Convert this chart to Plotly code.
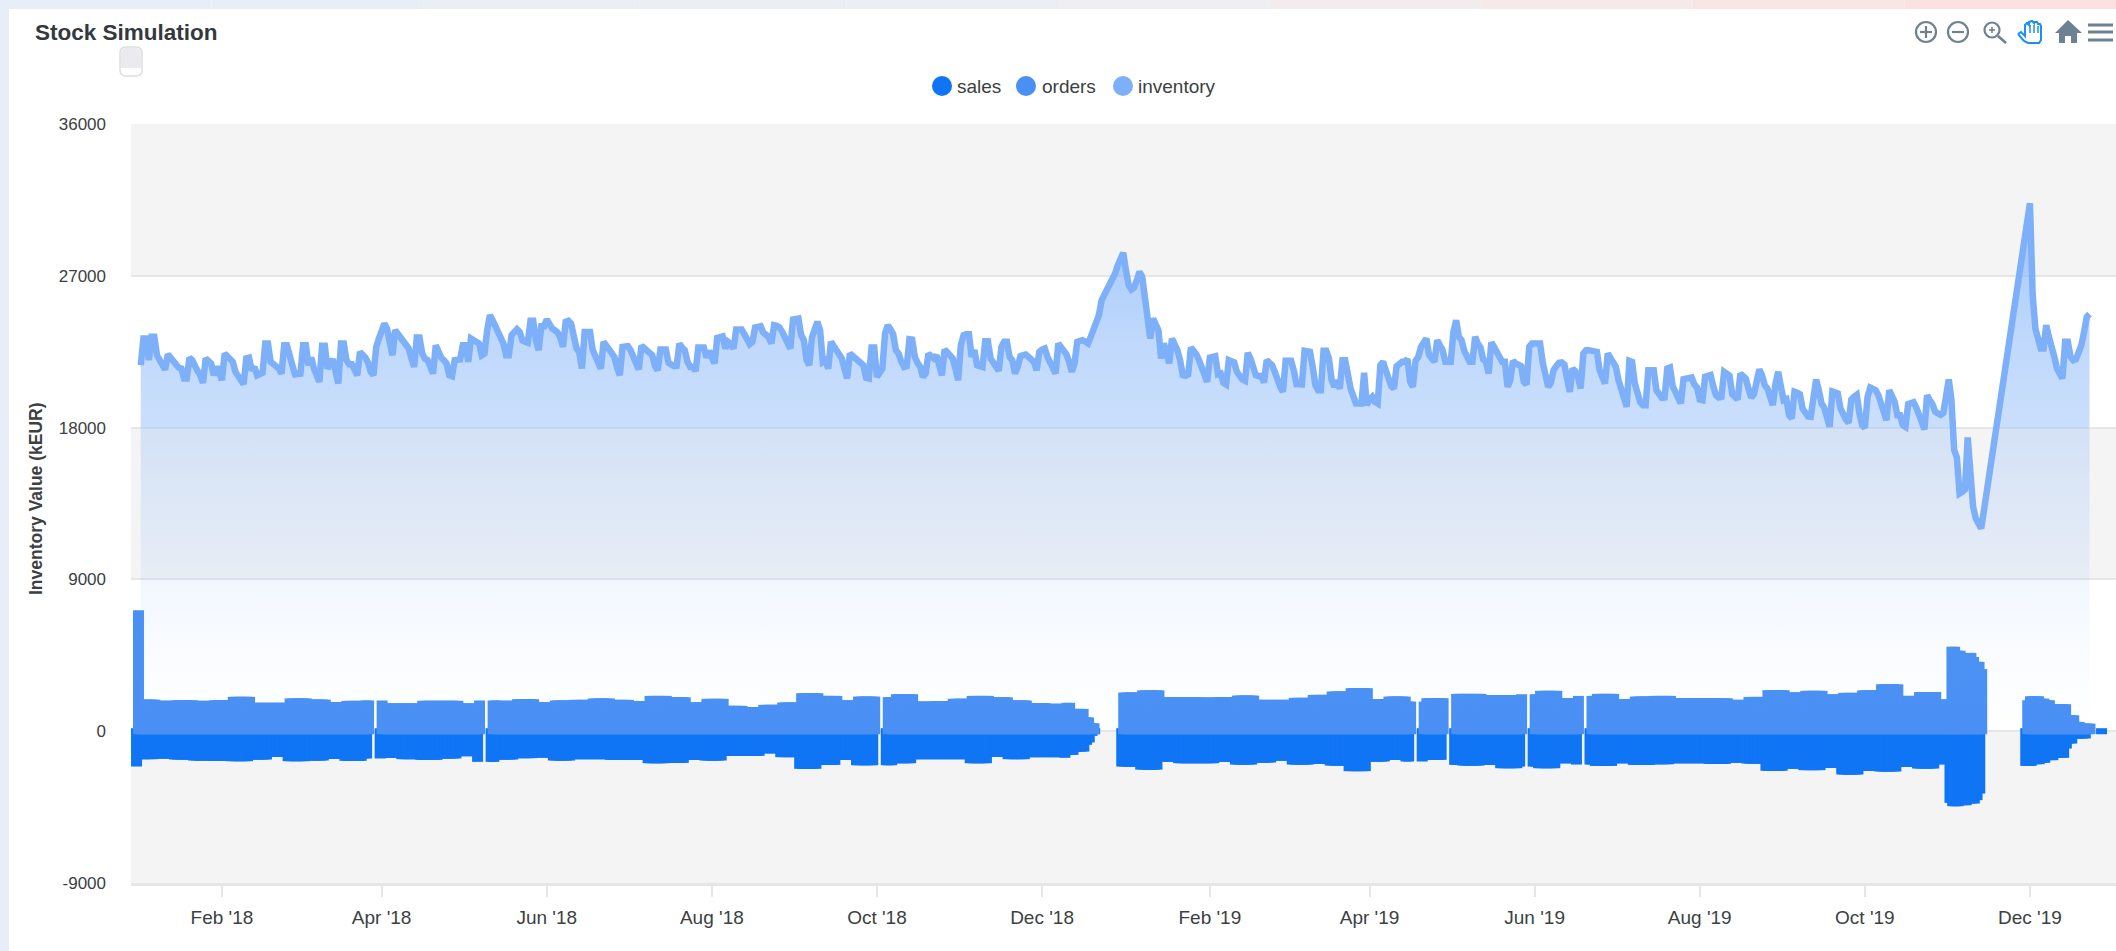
import plotly.graph_objects as go
import pandas as pd

# ---------- data ----------
inventory_start = "2018-01-02"
inventory = [
21700,23280,23280,22000,23380,23380,22290,22000,21700,21440,
22350,22150,21960,21640,21560,21500,20910,20910,22150,22000,
21760,21360,21100,20650,22100,21960,21800,21100,21600,21300,
20810,22390,22190,22060,21900,21300,21000,20810,20570,22100,
22140,21400,21600,21100,21200,21250,22985,22985,21900,21800,
21700,21500,21200,22885,22885,22150,21700,21150,21170,21200,
22885,22885,21700,22150,21500,21100,20710,22850,22850,21500,
21800,22060,21300,20610,22985,22985,22000,21760,21760,21400,
21100,22490,22350,22150,21840,21300,21100,22790,23280,23775,
24170,23870,23085,22290,23775,23580,23380,23180,22885,22690,
22100,21600,23340,23340,22390,22080,22000,21600,21200,22885,
22390,22150,22000,21800,21100,21050,22000,22040,22040,22885,
22885,21900,23280,23180,23085,22985,22290,22390,23775,24665,
24370,24030,23675,23180,22985,22290,22290,23480,23675,23835,
23675,23180,23085,23025,24330,24330,23180,22590,24010,24010,
24410,24070,23870,23775,23635,23340,22790,24270,24330,24170,
23145,22690,22490,21500,23675,23675,23675,22590,22190,21800,
21500,23085,22885,22690,22490,22190,21560,21100,22790,22810,
22830,22590,22190,21700,21445,22850,22690,22590,22490,22290,
21640,21400,22630,22630,22630,21840,21740,21640,21660,22985,
22750,22590,21900,21600,21600,21350,22750,22750,22750,22155,
22550,22190,21800,23320,23360,23400,22690,23085,22945,22690,
23815,23815,23815,23540,23280,22945,23085,23935,23975,24010,
23635,23520,23380,22985,24070,24030,23935,23675,23380,23085,
22690,24410,24470,24470,23480,23185,22000,21700,23340,23815,
24270,23775,21900,22000,21500,23085,22825,22630,22430,22100,
21500,20910,22390,22250,22155,22000,21760,21700,20950,20910,
22750,22750,21000,21300,21500,23580,24070,23835,23540,22590,
22390,21900,21600,21640,23240,23220,22195,21840,21600,21010,
21200,22390,22190,22100,22290,21600,21100,22630,22490,22290,
22100,21500,20810,22885,23480,23540,23540,22195,22590,21700,
21640,21600,23125,23125,22100,21800,21600,21365,22790,23085,
23085,22195,22000,21200,21600,22235,22294,22333,22195,22096,
21900,21404,22492,22630,22690,22195,21860,21600,21207,22986,
22750,22550,22350,21900,21306,21800,23085,23145,23183,23085,
22986,23380,23875,24230,24665,25554,25850,26147,26444,26800,
27135,27630,28025,28360,27333,26444,26186,26305,26740,27234,
26937,25752,24467,23282,24467,24072,23776,22097,22986,22492,
21800,23282,22946,22590,22000,21108,21069,21148,22748,22550,
22353,21998,21563,21207,20713,22156,22195,22235,21168,21207,
20654,20555,21998,21900,21860,21306,21010,20852,20773,22432,
22096,21701,21108,21049,21069,20674,21998,21840,21700,21306,
20713,20417,20120,21958,21958,21958,21405,20575,20570,20555,
22550,22550,22490,21600,20515,20219,20219,22550,22550,22096,
20812,20417,20812,20298,21997,21997,20910,20318,19863,19430,
19430,19430,21247,19330,19666,19824,19527,19430,21700,21900,
21405,20851,20456,20318,21642,21760,21900,21900,22057,20713,
20417,21958,22195,22788,23144,23282,22294,22096,21900,23183,
22887,22590,21900,21900,21900,23677,24369,23381,23183,22551,
22096,21900,21900,23381,22985,22748,22037,21900,21207,23045,
22788,22491,22195,21900,21900,20417,20812,21958,21800,21700,
21642,20713,20555,22788,22985,22985,22985,22985,21839,21010,
20417,20654,21405,21642,21839,21859,21740,20910,20120,21503,
21345,21010,20318,22393,22590,22590,22551,22531,22491,21405,
20970,20614,22393,22096,21839,21602,20812,20219,19626,19231,
21958,21900,20614,20021,19508,19330,19330,21405,21405,21405,
20219,19923,19765,19785,21503,21563,20456,20120,19863,19430,
20871,20910,20970,20970,20555,20377,19665,19626,21010,21069,
21108,20456,19923,19785,19824,21306,21207,21088,19982,19785,
19666,21207,21049,20910,20317,19784,19962,20713,21444,21108,
20515,20318,19824,19330,20614,21306,20416,19626,19685,18737,
18539,20120,20061,19982,19132,18836,18658,18638,19824,20851,
20219,19428,19171,18440,18045,20140,20080,20021,19132,18737,
18480,18282,19665,19824,19942,18836,18144,17986,19824,20377,
20318,20219,19922,19330,18836,18440,20219,19863,19527,18737,
18737,18144,18045,19389,19468,19507,19191,18836,18342,17887,
19922,19626,19389,18934,18796,18757,18875,19824,20851,19626,
16662,16227,14093,14192,14330,17413,14488,13303,12611,12216,
12018,None,None,None,None,None,None,None,None,None,
None,None,None,None,None,None,None,None,31300,25900,23874,
23183,22689,22689,24072,23380,22590,22195,21503,21108,20910,
23084,23084,22195,21997,22056,22491,22886,23677,24566,24724,
]
assert len(inventory) == 721, len(inventory)

bar_start = "2018-01-01"
bar_end = "2019-12-28"
# weekly levels, one per week from Mon 1 Jan 2018 (None: no bars that week)
orders_weekly = [
2050,1980,2010,1975,2010,2215,1860,1860,2120,2050,1900,1975,2000,1820,1820,1980,
1980,1820,2000,1980,2075,1900,2000,2035,2115,2035,1955,2270,2190,1880,2095,1680,
1600,1740,1880,2430,2270,2000,2230,2200,2370,1930,1950,2100,2270,2190,2000,1840,
1800,1860,None,None,2470,2600,2190,2190,2170,2200,2290,2035,2035,2155,2330,2530,
2730,2075,2230,1935,2135,2390,2390,2310,2310,2370,2570,2135,2270,2390,2075,2230,
2270,2130,2130,2130,2035,2210,2610,2470,2570,2350,2450,2600,2960,2270,2500,2050,
]
sales_weekly = [
1480,1440,1500,1560,1580,1600,1500,1340,1600,1560,1460,1580,1440,1400,1480,1520,
1440,1300,1640,1500,1420,1380,1560,1480,1480,1520,1520,1720,1700,1520,1560,1285,
1285,1130,1360,2050,1820,1520,1840,1840,1720,1480,1480,1480,1720,1340,1480,1360,
1360,1400,None,None,1920,2100,1620,1720,1720,1640,1800,1680,1560,1800,1760,1860,
2190,1620,1520,1620,1520,1820,1860,1820,2015,1920,2015,1720,1800,1880,1720,1820,
1780,1720,1720,1760,1680,1740,2170,2035,2130,2000,2390,2170,2210,1940,2035,1780,
]
# finer runs that replace the weekly level: (first day, last day, value)
orders_runs = [
("2018-01-01","2018-01-01",7350),("2018-12-12","2018-12-16",1500),
("2018-12-17","2018-12-18",1000),("2018-12-19","2018-12-20",650),
("2019-11-02","2019-11-03",5180),("2019-11-04","2019-11-05",4950),
("2019-11-06","2019-11-07",4450),("2019-11-08","2019-11-09",4820),
("2019-11-10","2019-11-10",4580),("2019-11-11","2019-11-12",4290),
("2019-11-13","2019-11-13",3860),("2019-11-30","2019-11-30",2015),
("2019-12-01","2019-12-04",2250),("2019-12-05","2019-12-06",2110),
("2019-12-07","2019-12-08",2015),("2019-12-09","2019-12-14",1780),
("2019-12-15","2019-12-17",1125),("2019-12-18","2019-12-19",730),
("2019-12-20","2019-12-23",630),
]
sales_runs = [
("2018-01-01","2018-01-01",1917),("2018-12-11","2018-12-13",1225),
("2018-12-14","2018-12-17",1030),("2018-12-18","2018-12-18",630),
("2018-12-19","2018-12-19",490),("2018-12-20","2018-12-20",100),
("2018-12-21","2018-12-21",1),
("2019-11-02","2019-11-02",4070),("2019-11-03","2019-11-05",4270),
("2019-11-06","2019-11-08",4210),("2019-11-09","2019-11-11",4110),
("2019-11-12","2019-11-12",3910),("2019-11-13","2019-11-13",3520),
("2019-11-30","2019-12-02",1880),("2019-12-03","2019-12-05",1780),
("2019-12-06","2019-12-07",1700),("2019-12-08","2019-12-10",1540),
("2019-12-11","2019-12-14",1400),("2019-12-15","2019-12-15",850),
("2019-12-16","2019-12-17",555),("2019-12-18","2019-12-22",255),
("2019-12-28","2019-12-28",1),
]
holidays = ["2018-03-30","2018-05-10","2018-10-03","2019-04-19","2019-05-01","2019-05-30","2019-06-20"]

tick_dates = ["2018-02-01","2018-04-01","2018-06-01","2018-08-01","2018-10-01","2018-12-01",
              "2019-02-01","2019-04-01","2019-06-01","2019-08-01","2019-10-01","2019-12-01"]
tick_labels = ["Feb '18","Apr '18","Jun '18","Aug '18","Oct '18","Dec '18",
               "Feb '19","Apr '19","Jun '19","Aug '19","Oct '19","Dec '19"]
y_ticks = [36000,27000,18000,9000,0,-9000]
series_names = ["sales","orders","inventory"]
C_SALES, C_ORDERS, C_INV = "#0f75f5", "#4a90f4", "#7db0f8"
GRID = "#e6e6e6"
INK = "#3b4143"

# ---------- expand to dated bars ----------
days = pd.date_range(bar_start, bar_end, freq="D")
removed = set()
for h in holidays:
    for off in (-2, -1, 0, 1):
        removed.add(pd.Timestamp(h) + pd.Timedelta(days=off))

def series(weekly, runs):
    out = {}
    for d in days:
        k = (d - days[0]).days // 7
        if k < len(weekly) and weekly[k] is not None:
            out[d] = weekly[k]
    for a, b, v in runs:
        for d in pd.date_range(a, b, freq="D"):
            out[d] = v
    for d in removed:
        out.pop(d, None)
    return out

STROKE_VALUE = 356           # 6 px bar outline, in axis units
orders = series(orders_weekly, orders_runs)
sales = series(sales_weekly, sales_runs)
DAY = 86400000
BAR_W = 1.85 * DAY

inv_dates = pd.date_range(inventory_start, periods=len(inventory), freq="D")

fig = go.Figure()
fig.add_bar(x=list(sales), y=[-v for v in sales.values()], name=series_names[0],
            width=BAR_W, offset=-1.475 * DAY,
            marker=dict(color=C_SALES, line=dict(color=C_SALES, width=6)))
fig.add_bar(x=list(orders), y=[v - STROKE_VALUE for v in orders.values()], name=series_names[1],
            width=BAR_W, offset=-0.745 * DAY,
            marker=dict(color=C_ORDERS, line=dict(color=C_ORDERS, width=6)))
fig.add_scatter(x=inv_dates, y=inventory, name=series_names[2], mode="lines", connectgaps=True,
                line=dict(color=C_INV, width=6.5), fill="tozeroy",
                fillgradient=dict(type="vertical", start=31300, stop=0,
                                  colorscale=[[0, "rgba(125,176,248,0.72)"],
                                              [0.233, "rgba(125,176,248,0.51)"],
                                              [0.393, "rgba(125,176,248,0.42)"],
                                              [0.4233, "rgba(125,176,248,0.41)"],
                                              [0.4265, "rgba(125,176,252,0.27)"],
                                              [0.5687, "rgba(125,176,255,0.19)"],
                                              [0.7125, "rgba(125,176,255,0.10)"],
                                              [0.856, "rgba(125,176,255,0.04)"],
                                              [1, "rgba(125,176,255,0)"]]))

# ---------- pixel helpers for page furniture ----------
L, R, T, B = 131, 2116, 124, 883
W, H = 2116, 951
px = lambda x: (x - L) / (R - L)
py = lambda y: 1 - (y - T) / (B - T)
P = dict(xref="paper", yref="paper")
shapes = []

def rect(x0, y0, x1, y1, color, **kw):
    shapes.append(dict(type="rect", x0=px(x0), x1=px(x1), y0=py(y0), y1=py(y1),
                       fillcolor=color, line=dict(width=0), **P, **kw))

def circle(cx, cy, r, fill=None, line=None, lw=0):
    shapes.append(dict(type="circle", x0=px(cx - r), x1=px(cx + r), y0=py(cy - r), y1=py(cy + r),
                       fillcolor=fill or "rgba(0,0,0,0)",
                       line=dict(color=line or "rgba(0,0,0,0)", width=lw), **P))

def path(points, close=False, fill=None, line=None, lw=0):
    d = "M " + " L ".join(f"{px(x):.5f} {py(y):.5f}" for x, y in points) + (" Z" if close else "")
    shapes.append(dict(type="path", path=d, fillcolor=fill or "rgba(0,0,0,0)",
                       line=dict(color=line or "rgba(0,0,0,0)", width=lw), **P))

# alternating background bands
for y0, y1 in [(27000, 36000), (9000, 18000), (-9000, 0)]:
    shapes.append(dict(type="rect", xref="paper", yref="y", x0=0, x1=1, y0=y0, y1=y1,
                       fillcolor="#f4f4f4", line=dict(width=0), layer="below"))

# page strip round the card
strip = ["#e8eef7", "#e9eef6", "#eaeef5", "#ebeef5", "#edeef4", "#efeef3", "#f2ecee", "#f5e9ea", "#f8e5e5", "#fbe1e0"]
for i, c in enumerate(strip):
    rect(i * W / 10, 0, (i + 1) * W / 10, 9, c)
rect(0, 0, 9, 951, "#e8eef7")

# slider handle
hx0, hx1, hy0, hy1 = 120, 142, 47, 76
shapes.append(dict(type="path", **P, fillcolor="#ffffff", line=dict(color="#dedede", width=1.5),
    path=f"M {px(hx0)} {py(hy0+6)} Q {px(hx0)} {py(hy0)} {px(hx0+6)} {py(hy0)} L {px(hx1-6)} {py(hy0)} "
         f"Q {px(hx1)} {py(hy0)} {px(hx1)} {py(hy0+6)} L {px(hx1)} {py(hy1-6)} Q {px(hx1)} {py(hy1)} {px(hx1-6)} {py(hy1)} "
         f"L {px(hx0+6)} {py(hy1)} Q {px(hx0)} {py(hy1)} {px(hx0)} {py(hy1-6)} Z"))
shapes.append(dict(type="path", **P, fillcolor="#ebebef", line=dict(width=0),
    path=f"M {px(hx0+1)} {py(hy0+6)} Q {px(hx0+1)} {py(hy0+1)} {px(hx0+6)} {py(hy0+1)} L {px(hx1-6)} {py(hy0+1)} "
         f"Q {px(hx1-1)} {py(hy0+1)} {px(hx1-1)} {py(hy0+6)} L {px(hx1-1)} {py(68)} L {px(hx0+1)} {py(68)} Z"))

# toolbar icons
IC = "#6e8192"
circle(1926, 32, 10, line=IC, lw=2.2)
path([(1920, 32), (1932, 32)], line=IC, lw=2.2)
path([(1926, 26), (1926, 38)], line=IC, lw=2.2)
circle(1958, 32, 10, line=IC, lw=2.2)
path([(1952, 32), (1964, 32)], line=IC, lw=2.2)
circle(1992, 30, 7.5, line=IC, lw=2.2)
path([(1989, 30), (1995, 30)], line=IC, lw=1.6)
path([(1992, 27), (1992, 33)], line=IC, lw=1.6)
path([(1998, 36), (2006, 43)], line=IC, lw=2.6)
HC = "#1a90f5"
path([(2018, 34), (2021, 32), (2025, 36), (2025, 25), (2027, 23), (2029, 25), (2029, 22), (2032, 21),
      (2034, 23), (2034, 22), (2037, 22), (2038, 24), (2040, 24), (2041, 26), (2041, 40), (2039, 43),
      (2028, 43), (2024, 41), (2018, 34)], line=HC, lw=2)
path([(2030, 25), (2030, 33)], line=HC, lw=1.5)
path([(2034, 25), (2034, 33)], line=HC, lw=1.5)
path([(2038, 26), (2038, 33)], line=HC, lw=1.5)
path([(2068, 20), (2082, 33), (2077, 33), (2077, 43), (2071, 43), (2071, 36), (2065, 36), (2065, 43),
      (2059, 43), (2059, 33), (2055, 33)], close=True, fill=IC)
for yy in (25, 32, 40):
    path([(2088, yy), (2113, yy)], line=IC, lw=3)

# legend keys and labels (circular keys as in the reference)
annotations = []
legend_layout = [(942, 955), (1026, 1040), (1123, 1136)]
for (cx, tx), name, col in zip(legend_layout, series_names, [C_SALES, C_ORDERS, C_INV]):
    circle(cx, 86, 10, fill=col)
    annotations.append(dict(text=name, x=px(tx), y=py(87), **P, xanchor="left", yanchor="middle",
                            showarrow=False, font=dict(size=19, color=INK)))

# y axis title, placed where the reference has it
annotations.append(dict(text="<b>Inventory Value (kEUR)</b>", x=px(36), y=py(499), **P, textangle=-90,
                        xanchor="center", yanchor="middle", showarrow=False,
                        font=dict(size=17.5, color=INK)))

fig.update_layout(
    width=W, height=H, autosize=False, showlegend=False, barmode="overlay",
    paper_bgcolor="#ffffff", plot_bgcolor="#ffffff",
    margin=dict(l=L, r=W - R, t=T, b=H - B, pad=0),
    font=dict(family="Liberation Sans, Arial, sans-serif", color=INK, size=17),
    title=dict(text="<b>Stock Simulation</b>", x=35 / W, xanchor="left", y=1 - 32.5 / H, yanchor="middle",
               font=dict(size=22.5, color="#33393c")),
    xaxis=dict(type="date", range=["2017-12-29 09:36", "2020-01-01 19:00"], tickmode="array",
               tickvals=tick_dates, ticktext=tick_labels, showgrid=False, ticks="outside", ticklen=11,
               tickwidth=2, tickcolor=GRID, showline=True, linecolor=GRID, linewidth=3, ticklabelstandoff=4,
               tickfont=dict(size=19, color=INK), zeroline=False),
    yaxis=dict(range=[-9000, 36000], tickmode="array", tickvals=y_ticks,
               ticktext=[str(v) for v in y_ticks], gridcolor=GRID, gridwidth=1.5, zeroline=False,
               showline=False, ticks="", ticklabelstandoff=24, tickfont=dict(size=17, color=INK)),
    shapes=shapes, annotations=annotations,
)
fig.write_html("out.html", config={"displayModeBar": False},
               post_script="document.body.style.margin='0';document.body.style.overflow='hidden';")
